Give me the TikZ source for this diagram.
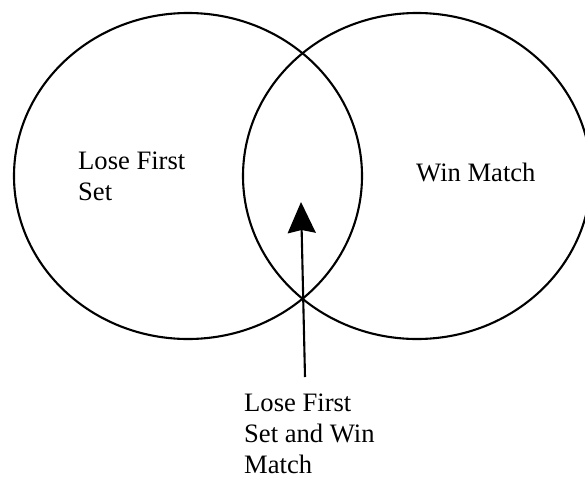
\documentclass[tikz,border=0pt]{standalone}
\usepackage{fontspec}
\setmainfont{Liberation Serif}
\usetikzlibrary{shapes.geometric,arrows.meta}
\tikzset{
  setshape/.style={draw=black, line width=2.1pt, ellipse, inner sep=0pt,
    minimum width=348pt, minimum height=326pt},
  lbl/.style={anchor=base west, inner sep=0pt,
    font=\fontsize{26.6pt}{31pt}\selectfont},
  pointer/.style={line width=2.1pt, -{Stealth[length=31pt, width=28pt, inset=3pt]}}
}
\newcommand{\lines}[1]{\begin{tabular}[t]{@{}l@{}}#1\end{tabular}}
\begin{document}
\begin{tikzpicture}[x=1pt, y=-1pt]
  \useasboundingbox (0,0) rectangle (585,476);
  \node[setshape] (lose) at (188,176) {};
  \node[setshape] (win) at (417,176) {};
  \node[lbl] (loseLbl) at (78,169) {\lines{Lose First\\Set}};
  \node[lbl] (winLbl) at (416,181) {Win Match};
  \node[lbl] (bothLbl) at (244,411) {\lines{Lose First\\Set and Win\\Match}};
  \coordinate (tail) at (305,377);
  \coordinate (tip) at (301,202);
  \draw[pointer] (tail) -- (tip);
\end{tikzpicture}
\end{document}
